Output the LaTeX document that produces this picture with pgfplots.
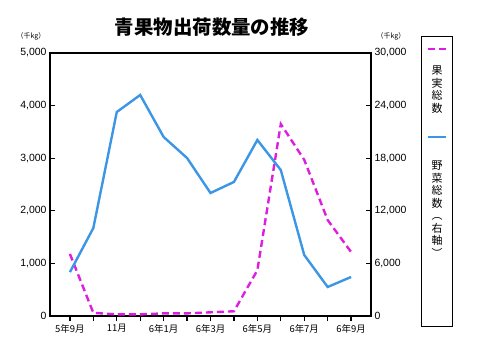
\documentclass[border=0pt]{standalone}
\usepackage{pgfplots}
\pgfplotsset{compat=1.18}
\usepackage{fontspec}
\setmainfont{Liberation Sans}
\newfontfamily\jp{Noto Sans CJK JP}
\definecolor{fruit}{RGB}{222,30,222}
\definecolor{veg}{RGB}{60,150,230}
\pgfplotstableread{
m fruit
0 1180
1 60
2 30
3 30
4 50
5 50
6 70
7 90
8 870
9 3650
10 2970
11 1825
12 1217
}\fruittab
\pgfplotstableread{
m veg
0 5000
1 10040
2 23270
3 25210
4 20420
5 18020
6 14030
7 15290
8 20080
9 16650
10 6960
11 3310
12 4450
}\vegtab
\begin{document}
\begin{tikzpicture}
\path (0,0) rectangle (478bp,357bp);
\pgfplotsset{every axis/.style={at={(50bp,41bp)}, anchor=south west, width=321bp, height=263bp, scale only axis,
  xmin=-0.85, xmax=12.85, major tick length=5bp, axis line style={line width=1.5bp},
  every tick/.style={black, line width=1.2bp},
  /pgf/number format/assume math mode=true,
  /pgf/number format/.cd, 1000 sep={,}}}
\begin{axis}[ymin=0, ymax=5000, ytick={0,1000,...,5000},
  xtick={0,...,12}, xticklabels={5年9月,,11月,,6年1月,,6年3月,,6年5月,,6年7月,,6年9月},
  xtick pos=bottom, ytick pos=left, xtick align=outside, ytick align=inside,
  x tick label style={font=\jp\fontsize{9.5}{10}\selectfont, yshift=0bp},
  y tick label style={font=\fontsize{10.5}{12}\selectfont},
  scaled y ticks=false]
\addplot[fruit, line width=2.4bp, dash pattern=on 7bp off 4bp] table[x=m,y=fruit]{\fruittab};
\end{axis}
\begin{axis}[ymin=0, ymax=30000, ytick={0,6000,...,30000},
  axis x line=none, axis y line*=right, ytick align=inside,
  y tick label style={font=\fontsize{10.5}{12}\selectfont},
  scaled y ticks=false]
\addplot[veg, line width=2.4bp] table[x=m,y=veg]{\vegtab};
\end{axis}
\node[font=\jp\bfseries\fontsize{19.5}{21}\selectfont] at (212bp,330bp) {青果物出荷数量の推移};
\node[font=\jp\fontsize{7}{8}\selectfont] at (31bp,321bp) {（千kg）};
\node[font=\jp\fontsize{7}{8}\selectfont] at (391bp,321bp) {（千kg）};
\draw[line width=0.8bp] (421bp,31bp) rectangle (452bp,321bp);
\draw[fruit, line width=2.4bp, dash pattern=on 7bp off 4bp] (428bp,308bp) -- (446bp,308bp);
\draw[veg, line width=2.4bp] (428bp,220bp) -- (446bp,220bp);
\node[font=\jp\fontsize{11}{12.5}\selectfont, align=center, anchor=north, inner sep=0pt] at (437bp,291bp) {果\\実\\総\\数};
\node[font=\jp\fontsize{11}{12.5}\selectfont, align=center, anchor=north, inner sep=0pt] at (437bp,196bp) {野\\菜\\総\\数\\︵\\右\\軸\\︶};
\end{tikzpicture}
\end{document}
